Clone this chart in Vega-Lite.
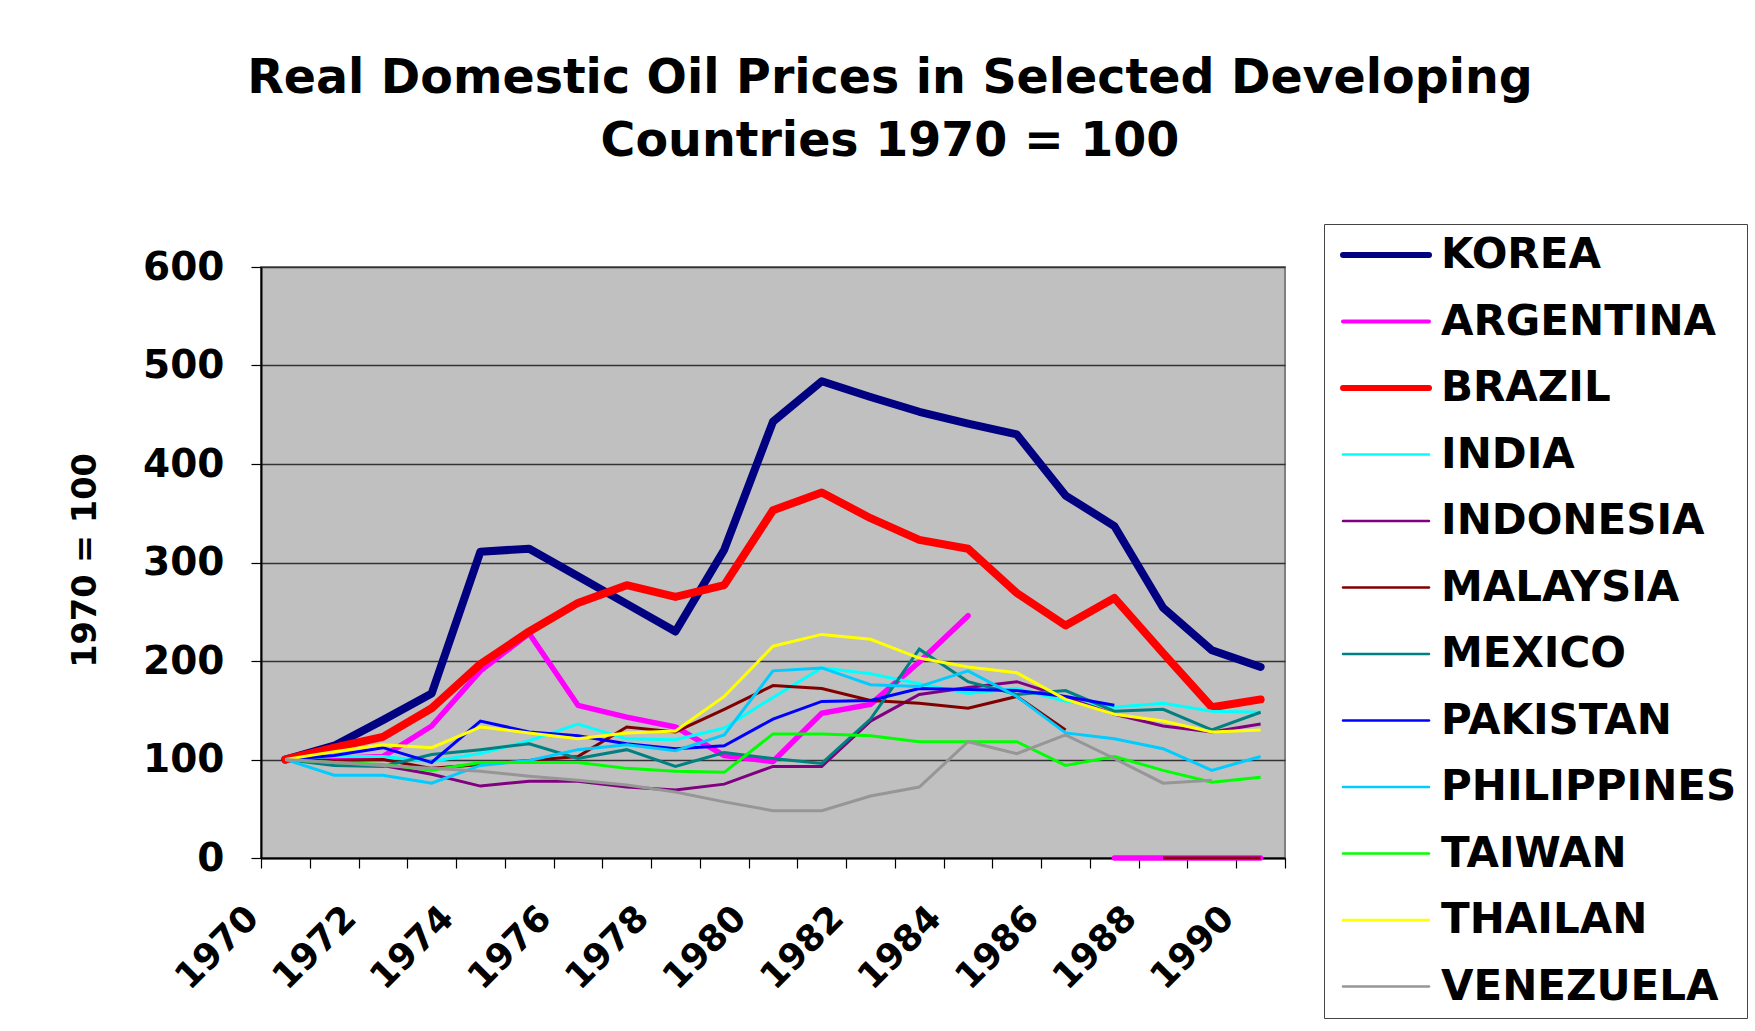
{
  "$schema": "https://vega.github.io/schema/vega-lite/v6.json",
  "autosize": "none",
  "width": 1024,
  "height": 591,
  "padding": {"left": 261, "top": 267, "right": 470, "bottom": 173},
  "background": "white",
  "title": {
    "text": ["Real Domestic Oil Prices in Selected Developing", "Countries 1970 = 100"],
    "font": "DejaVu Sans",
    "fontWeight": "bold",
    "fontSize": 47.5,
    "lineHeight": 63,
    "color": "black",
    "anchor": "middle",
    "frame": "group",
    "dx": 117,
    "offset": 58
  },
  "config": {
    "view": {"stroke": "#808080", "strokeWidth": 2, "fill": "#C0C0C0"},
    "font": "DejaVu Sans"
  },
  "data": {"values": [
    {"country":"KOREA","year":1970,"value":100},{"country":"KOREA","year":1971,"value":114},{"country":"KOREA","year":1972,"value":140},{"country":"KOREA","year":1973,"value":167},{"country":"KOREA","year":1974,"value":311},{"country":"KOREA","year":1975,"value":314},{"country":"KOREA","year":1976,"value":286},{"country":"KOREA","year":1977,"value":258},{"country":"KOREA","year":1978,"value":230},{"country":"KOREA","year":1979,"value":313},{"country":"KOREA","year":1980,"value":443},{"country":"KOREA","year":1981,"value":484},{"country":"KOREA","year":1982,"value":468},{"country":"KOREA","year":1983,"value":453},{"country":"KOREA","year":1984,"value":441},{"country":"KOREA","year":1985,"value":430},{"country":"KOREA","year":1986,"value":368},{"country":"KOREA","year":1987,"value":337},{"country":"KOREA","year":1988,"value":254},{"country":"KOREA","year":1989,"value":211},{"country":"KOREA","year":1990,"value":194},
    {"country":"ARGENTINA","year":1970,"value":100},{"country":"ARGENTINA","year":1971,"value":101},{"country":"ARGENTINA","year":1972,"value":103},{"country":"ARGENTINA","year":1973,"value":134},{"country":"ARGENTINA","year":1974,"value":190},{"country":"ARGENTINA","year":1975,"value":228},{"country":"ARGENTINA","year":1976,"value":155},{"country":"ARGENTINA","year":1977,"value":143},{"country":"ARGENTINA","year":1978,"value":133},{"country":"ARGENTINA","year":1979,"value":104},{"country":"ARGENTINA","year":1980,"value":98},{"country":"ARGENTINA","year":1981,"value":147},{"country":"ARGENTINA","year":1982,"value":156},{"country":"ARGENTINA","year":1983,"value":199},{"country":"ARGENTINA","year":1984,"value":246},{"country":"ARGENTINA","year":1985,"value":null},{"country":"ARGENTINA","year":1986,"value":null},{"country":"ARGENTINA","year":1987,"value":0},{"country":"ARGENTINA","year":1988,"value":0},{"country":"ARGENTINA","year":1989,"value":0},{"country":"ARGENTINA","year":1990,"value":0},
    {"country":"BRAZIL","year":1970,"value":100},{"country":"BRAZIL","year":1971,"value":112},{"country":"BRAZIL","year":1972,"value":123},{"country":"BRAZIL","year":1973,"value":152},{"country":"BRAZIL","year":1974,"value":197},{"country":"BRAZIL","year":1975,"value":230},{"country":"BRAZIL","year":1976,"value":259},{"country":"BRAZIL","year":1977,"value":277},{"country":"BRAZIL","year":1978,"value":265},{"country":"BRAZIL","year":1979,"value":277},{"country":"BRAZIL","year":1980,"value":353},{"country":"BRAZIL","year":1981,"value":371},{"country":"BRAZIL","year":1982,"value":345},{"country":"BRAZIL","year":1983,"value":323},{"country":"BRAZIL","year":1984,"value":314},{"country":"BRAZIL","year":1985,"value":269},{"country":"BRAZIL","year":1986,"value":236},{"country":"BRAZIL","year":1987,"value":264},{"country":"BRAZIL","year":1988,"value":208},{"country":"BRAZIL","year":1989,"value":153},{"country":"BRAZIL","year":1990,"value":161},
    {"country":"INDIA","year":1970,"value":100},{"country":"INDIA","year":1971,"value":103},{"country":"INDIA","year":1972,"value":103},{"country":"INDIA","year":1973,"value":98},{"country":"INDIA","year":1974,"value":106},{"country":"INDIA","year":1975,"value":119},{"country":"INDIA","year":1976,"value":136},{"country":"INDIA","year":1977,"value":121},{"country":"INDIA","year":1978,"value":120},{"country":"INDIA","year":1979,"value":132},{"country":"INDIA","year":1980,"value":163},{"country":"INDIA","year":1981,"value":193},{"country":"INDIA","year":1982,"value":187},{"country":"INDIA","year":1983,"value":177},{"country":"INDIA","year":1984,"value":167},{"country":"INDIA","year":1985,"value":172},{"country":"INDIA","year":1986,"value":159},{"country":"INDIA","year":1987,"value":153},{"country":"INDIA","year":1988,"value":157},{"country":"INDIA","year":1989,"value":149},{"country":"INDIA","year":1990,"value":148},
    {"country":"INDONESIA","year":1970,"value":100},{"country":"INDONESIA","year":1971,"value":97},{"country":"INDONESIA","year":1972,"value":94},{"country":"INDONESIA","year":1973,"value":85},{"country":"INDONESIA","year":1974,"value":73},{"country":"INDONESIA","year":1975,"value":78},{"country":"INDONESIA","year":1976,"value":78},{"country":"INDONESIA","year":1977,"value":72},{"country":"INDONESIA","year":1978,"value":69},{"country":"INDONESIA","year":1979,"value":75},{"country":"INDONESIA","year":1980,"value":93},{"country":"INDONESIA","year":1981,"value":93},{"country":"INDONESIA","year":1982,"value":139},{"country":"INDONESIA","year":1983,"value":166},{"country":"INDONESIA","year":1984,"value":173},{"country":"INDONESIA","year":1985,"value":179},{"country":"INDONESIA","year":1986,"value":163},{"country":"INDONESIA","year":1987,"value":146},{"country":"INDONESIA","year":1988,"value":134},{"country":"INDONESIA","year":1989,"value":128},{"country":"INDONESIA","year":1990,"value":136},
    {"country":"MALAYSIA","year":1970,"value":100},{"country":"MALAYSIA","year":1971,"value":99},{"country":"MALAYSIA","year":1972,"value":100},{"country":"MALAYSIA","year":1973,"value":91},{"country":"MALAYSIA","year":1974,"value":95},{"country":"MALAYSIA","year":1975,"value":99},{"country":"MALAYSIA","year":1976,"value":103},{"country":"MALAYSIA","year":1977,"value":133},{"country":"MALAYSIA","year":1978,"value":128},{"country":"MALAYSIA","year":1979,"value":151},{"country":"MALAYSIA","year":1980,"value":175},{"country":"MALAYSIA","year":1981,"value":172},{"country":"MALAYSIA","year":1982,"value":160},{"country":"MALAYSIA","year":1983,"value":157},{"country":"MALAYSIA","year":1984,"value":152},{"country":"MALAYSIA","year":1985,"value":164},{"country":"MALAYSIA","year":1986,"value":130},{"country":"MALAYSIA","year":1987,"value":null},{"country":"MALAYSIA","year":1988,"value":0},{"country":"MALAYSIA","year":1989,"value":0},{"country":"MALAYSIA","year":1990,"value":0},
    {"country":"MEXICO","year":1970,"value":100},{"country":"MEXICO","year":1971,"value":94},{"country":"MEXICO","year":1972,"value":93},{"country":"MEXICO","year":1973,"value":105},{"country":"MEXICO","year":1974,"value":110},{"country":"MEXICO","year":1975,"value":116},{"country":"MEXICO","year":1976,"value":101},{"country":"MEXICO","year":1977,"value":110},{"country":"MEXICO","year":1978,"value":93},{"country":"MEXICO","year":1979,"value":107},{"country":"MEXICO","year":1980,"value":101},{"country":"MEXICO","year":1981,"value":96},{"country":"MEXICO","year":1982,"value":141},{"country":"MEXICO","year":1983,"value":212},{"country":"MEXICO","year":1984,"value":179},{"country":"MEXICO","year":1985,"value":166},{"country":"MEXICO","year":1986,"value":170},{"country":"MEXICO","year":1987,"value":149},{"country":"MEXICO","year":1988,"value":151},{"country":"MEXICO","year":1989,"value":130},{"country":"MEXICO","year":1990,"value":148},
    {"country":"PAKISTAN","year":1970,"value":100},{"country":"PAKISTAN","year":1971,"value":104},{"country":"PAKISTAN","year":1972,"value":112},{"country":"PAKISTAN","year":1973,"value":97},{"country":"PAKISTAN","year":1974,"value":139},{"country":"PAKISTAN","year":1975,"value":128},{"country":"PAKISTAN","year":1976,"value":124},{"country":"PAKISTAN","year":1977,"value":116},{"country":"PAKISTAN","year":1978,"value":111},{"country":"PAKISTAN","year":1979,"value":114},{"country":"PAKISTAN","year":1980,"value":141},{"country":"PAKISTAN","year":1981,"value":159},{"country":"PAKISTAN","year":1982,"value":160},{"country":"PAKISTAN","year":1983,"value":172},{"country":"PAKISTAN","year":1984,"value":171},{"country":"PAKISTAN","year":1985,"value":170},{"country":"PAKISTAN","year":1986,"value":164},{"country":"PAKISTAN","year":1987,"value":155},
    {"country":"PHILIPPINES","year":1970,"value":100},{"country":"PHILIPPINES","year":1971,"value":84},{"country":"PHILIPPINES","year":1972,"value":84},{"country":"PHILIPPINES","year":1973,"value":76},{"country":"PHILIPPINES","year":1974,"value":94},{"country":"PHILIPPINES","year":1975,"value":99},{"country":"PHILIPPINES","year":1976,"value":110},{"country":"PHILIPPINES","year":1977,"value":115},{"country":"PHILIPPINES","year":1978,"value":109},{"country":"PHILIPPINES","year":1979,"value":125},{"country":"PHILIPPINES","year":1980,"value":190},{"country":"PHILIPPINES","year":1981,"value":193},{"country":"PHILIPPINES","year":1982,"value":176},{"country":"PHILIPPINES","year":1983,"value":174},{"country":"PHILIPPINES","year":1984,"value":190},{"country":"PHILIPPINES","year":1985,"value":164},{"country":"PHILIPPINES","year":1986,"value":127},{"country":"PHILIPPINES","year":1987,"value":121},{"country":"PHILIPPINES","year":1988,"value":111},{"country":"PHILIPPINES","year":1989,"value":89},{"country":"PHILIPPINES","year":1990,"value":103},
    {"country":"TAIWAN","year":1970,"value":100},{"country":"TAIWAN","year":1971,"value":97},{"country":"TAIWAN","year":1972,"value":95},{"country":"TAIWAN","year":1973,"value":89},{"country":"TAIWAN","year":1974,"value":97},{"country":"TAIWAN","year":1975,"value":97},{"country":"TAIWAN","year":1976,"value":97},{"country":"TAIWAN","year":1977,"value":91},{"country":"TAIWAN","year":1978,"value":88},{"country":"TAIWAN","year":1979,"value":87},{"country":"TAIWAN","year":1980,"value":126},{"country":"TAIWAN","year":1981,"value":126},{"country":"TAIWAN","year":1982,"value":124},{"country":"TAIWAN","year":1983,"value":118},{"country":"TAIWAN","year":1984,"value":118},{"country":"TAIWAN","year":1985,"value":118},{"country":"TAIWAN","year":1986,"value":94},{"country":"TAIWAN","year":1987,"value":103},{"country":"TAIWAN","year":1988,"value":89},{"country":"TAIWAN","year":1989,"value":77},{"country":"TAIWAN","year":1990,"value":82},
    {"country":"THAILAN","year":1970,"value":100},{"country":"THAILAN","year":1971,"value":108},{"country":"THAILAN","year":1972,"value":115},{"country":"THAILAN","year":1973,"value":112},{"country":"THAILAN","year":1974,"value":133},{"country":"THAILAN","year":1975,"value":127},{"country":"THAILAN","year":1976,"value":121},{"country":"THAILAN","year":1977,"value":127},{"country":"THAILAN","year":1978,"value":129},{"country":"THAILAN","year":1979,"value":164},{"country":"THAILAN","year":1980,"value":215},{"country":"THAILAN","year":1981,"value":227},{"country":"THAILAN","year":1982,"value":222},{"country":"THAILAN","year":1983,"value":203},{"country":"THAILAN","year":1984,"value":194},{"country":"THAILAN","year":1985,"value":188},{"country":"THAILAN","year":1986,"value":161},{"country":"THAILAN","year":1987,"value":146},{"country":"THAILAN","year":1988,"value":139},{"country":"THAILAN","year":1989,"value":128},{"country":"THAILAN","year":1990,"value":130},
    {"country":"VENEZUELA","year":1970,"value":100},{"country":"VENEZUELA","year":1971,"value":97},{"country":"VENEZUELA","year":1972,"value":94},{"country":"VENEZUELA","year":1973,"value":91},{"country":"VENEZUELA","year":1974,"value":88},{"country":"VENEZUELA","year":1975,"value":83},{"country":"VENEZUELA","year":1976,"value":79},{"country":"VENEZUELA","year":1977,"value":74},{"country":"VENEZUELA","year":1978,"value":67},{"country":"VENEZUELA","year":1979,"value":57},{"country":"VENEZUELA","year":1980,"value":48},{"country":"VENEZUELA","year":1981,"value":48},{"country":"VENEZUELA","year":1982,"value":63},{"country":"VENEZUELA","year":1983,"value":72},{"country":"VENEZUELA","year":1984,"value":118},{"country":"VENEZUELA","year":1985,"value":106},{"country":"VENEZUELA","year":1986,"value":125},{"country":"VENEZUELA","year":1987,"value":101},{"country":"VENEZUELA","year":1988,"value":76},{"country":"VENEZUELA","year":1989,"value":79}
  ]},
  "encoding": {
    "x": {
      "field": "year", "type": "ordinal",
      "scale": {"type": "band", "paddingInner": 0, "paddingOuter": 0},
      "axis": {
        "title": null,
        "tickBand": "extent",
        "labelExpr": "datum.value % 2 === 0 ? datum.label : ''",
        "labelAngle": -45,
        "labelAlign": "right",
        "labelBaseline": "middle",
        "labelFont": "DejaVu Sans",
        "labelFontWeight": "bold",
        "labelFontSize": 36,
        "labelColor": "black",
        "labelPadding": 44,
        "labelOffset": -33,
        "labelOverlap": false,
        "domainColor": "black",
        "domainWidth": 2,
        "tickColor": "black",
        "tickWidth": 1.2,
        "tickSize": 10,
        "grid": false
      }
    },
    "y": {
      "field": "value", "type": "quantitative",
      "scale": {"domain": [0, 600], "nice": false, "zero": true},
      "axis": {
        "title": "1970 = 100",
        "titleFont": "DejaVu Sans",
        "titleFontWeight": "bold",
        "titleFontSize": 33.5,
        "titleColor": "black",
        "titleAngle": -90,
        "titleAlign": "center",
        "titleBaseline": "middle",
        "titleX": -176,
        "titleY": 293,
        "values": [0, 100, 200, 300, 400, 500, 600],
        "labelFont": "DejaVu Sans",
        "labelFontWeight": "bold",
        "labelFontSize": 39,
        "labelColor": "black",
        "labelPadding": 27,
        "domainColor": "black",
        "domainWidth": 2,
        "tickColor": "black",
        "tickWidth": 1.2,
        "tickSize": 10,
        "grid": true,
        "gridColor": "#333333",
        "gridWidth": 1.3,
        "gridOpacity": 1
      }
    },
    "color": {
      "field": "country", "type": "nominal",
      "scale": {
        "domain": ["KOREA","ARGENTINA","BRAZIL","INDIA","INDONESIA","MALAYSIA","MEXICO","PAKISTAN","PHILIPPINES","TAIWAN","THAILAN","VENEZUELA"],
        "range": ["#000080","#FF00FF","#FF0000","#00FFFF","#800080","#800000","#008080","#0000FF","#00CCFF","#00FF00","#FFFF00","#969696"]
      },
      "legend": {
        "title": null,
        "orient": "none",
        "legendX": 1063,
        "legendY": -43,
        "direction": "vertical",
        "symbolType": "stroke",
        "symbolSize": 7396,
        "symbolStrokeWidth": 2.5,
        "symbolOffset": 31,
        "labelFont": "DejaVu Sans",
        "labelFontWeight": "bold",
        "labelFontSize": 42,
        "labelColor": "black",
        "labelLimit": 400,
        "labelOffset": 34,
        "rowPadding": 24.5,
        "padding": 10,
        "strokeColor": "#444444",
        "fillColor": "white",
        "values": ["KOREA","ARGENTINA","BRAZIL","INDIA","INDONESIA","MALAYSIA","MEXICO","PAKISTAN","PHILIPPINES","TAIWAN","THAILAN","VENEZUELA"],
        "encode": {
          "symbols": {
            "update": {
              "strokeWidth": {"signal": "datum.value === 'KOREA' || datum.value === 'BRAZIL' ? 6 : datum.value === 'ARGENTINA' ? 4 : 2.5"},
              "strokeCap": {"value": "round"}
            }
          }
        }
      }
    }
  },
  "layer": [
    {
      "transform": [{"filter": "datum.country === 'KOREA'"}],
      "mark": {"type": "line", "strokeWidth": 8, "strokeCap": "round", "strokeJoin": "round", "invalid": "break-paths-show-domains"}
    },
    {
      "transform": [{"filter": "datum.country === 'ARGENTINA'"}],
      "mark": {"type": "line", "strokeWidth": 5.5, "strokeCap": "round", "strokeJoin": "round", "invalid": "break-paths-show-domains"}
    },
    {
      "transform": [{"filter": "datum.country === 'BRAZIL'"}],
      "mark": {"type": "line", "strokeWidth": 8, "strokeCap": "round", "strokeJoin": "round", "invalid": "break-paths-show-domains"}
    },
    {
      "transform": [{"filter": "datum.country !== 'KOREA' && datum.country !== 'ARGENTINA' && datum.country !== 'BRAZIL'"}],
      "mark": {"type": "line", "strokeWidth": 3, "strokeJoin": "miter", "invalid": "break-paths-show-domains"}
    }
  ]
}
